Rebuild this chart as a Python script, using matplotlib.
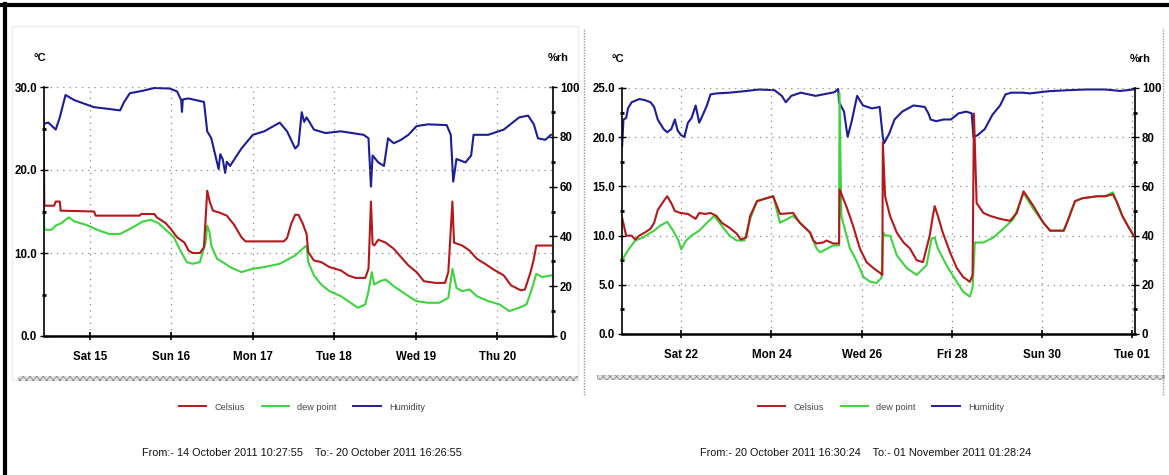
import matplotlib
matplotlib.use("Agg")
import matplotlib.pyplot as plt
from matplotlib.lines import Line2D
from matplotlib.patches import Rectangle
from matplotlib.ticker import FixedLocator, MultipleLocator, FormatStrFormatter

plt.rcParams['font.family'] = ['Liberation Sans Narrow', 'Liberation Sans', 'DejaVu Sans']
plt.rcParams['hatch.linewidth'] = 0.6

W, H = 1169, 475

CELSIUS_C = "#b3191c"
DEW_C = "#3fd43f"
HUM_C = "#1d1d98"

# ---- logger run 1: days since 14 Oct 2011 00:00 ----
run1_hum_t = [0.44, 0.49, 0.58, 0.63, 0.70, 0.81, 1.05, 1.23, 1.37, 1.42, 1.49, 1.65, 1.79, 1.98,
              2.07, 2.12, 2.13, 2.14, 2.21, 2.40, 2.44, 2.49, 2.54, 2.58, 2.60, 2.63, 2.66, 2.68,
              2.72, 2.86, 3.00, 3.14, 3.33, 3.42, 3.52, 3.56, 3.60, 3.63, 3.66, 3.75, 3.89, 4.08,
              4.22, 4.36, 4.42, 4.45, 4.47, 4.54, 4.61, 4.66, 4.73, 4.82, 4.91, 5.01, 5.15, 5.38,
              5.43, 5.46, 5.50, 5.61, 5.68, 5.71, 5.89, 6.08, 6.27, 6.38, 6.45, 6.50, 6.59, 6.66]
run1_hum = [85.3, 85.7, 82.9, 87.8, 96.8, 94.7, 91.9, 91.2, 90.6, 94.0, 97.5, 98.5, 99.6, 99.4,
            98.2, 94.7, 90.0, 95.0, 95.4, 94.0, 82.2, 79.4, 72.5, 67.0, 73.0, 71.0, 65.5, 70.0,
            68.3, 75.3, 80.8, 82.2, 85.7, 82.2, 75.3, 76.7, 89.9, 86.0, 87.8, 82.9, 81.5, 82.2,
            81.5, 80.8, 79.4, 60.0, 72.5, 69.7, 68.3, 79.4, 77.4, 78.8, 80.8, 84.3, 85.0, 84.7,
            80.8, 62.0, 71.1, 69.7, 72.5, 80.8, 80.8, 82.9, 87.8, 88.5, 85.0, 79.4, 78.8, 80.8]

run1_cel_t = [0.43, 0.44, 0.56, 0.58, 0.63, 0.64, 1.05, 1.07, 1.61, 1.63, 1.79, 1.82, 1.93, 2.00,
              2.07, 2.16, 2.21, 2.26, 2.35, 2.40, 2.44, 2.47, 2.51, 2.58, 2.68, 2.77, 2.86, 2.91,
              3.38, 3.42, 3.47, 3.52, 3.56, 3.61, 3.66, 3.68, 3.75, 3.84, 3.94, 4.08, 4.17, 4.26,
              4.38, 4.42, 4.45, 4.47, 4.49, 4.54, 4.63, 4.73, 4.82, 4.91, 5.01, 5.10, 5.24, 5.36,
              5.40, 5.45, 5.47, 5.57, 5.66, 5.75, 5.85, 5.94, 6.08, 6.17, 6.29, 6.34, 6.41, 6.45,
              6.48, 6.52, 6.66]
run1_cel = [26.5, 15.7, 15.7, 16.2, 16.2, 15.1, 15.0, 14.5, 14.5, 14.7, 14.7, 14.3, 13.6, 12.8,
            11.9, 11.25, 10.3, 10.0, 10.0, 10.7, 17.5, 16.2, 15.1, 14.9, 14.5, 13.4, 11.9, 11.4,
            11.4, 11.8, 13.5, 14.6, 14.6, 13.6, 12.3, 10.1, 9.1, 8.9, 8.3, 7.9, 7.3, 7.0,
            7.0, 8.1, 16.2, 11.1, 10.9, 11.6, 11.25, 10.5, 9.5, 8.5, 7.7, 6.6, 6.4, 6.4,
            7.7, 16.2, 11.25, 10.9, 10.3, 9.3, 8.7, 8.1, 7.3, 6.1, 5.5, 5.6, 7.7, 9.3,
            10.9, 10.9, 10.9]

run1_dew_t = [0.43, 0.44, 0.53, 0.58, 0.65, 0.70, 0.74, 0.81, 0.95, 1.09, 1.23, 1.37, 1.51, 1.65,
              1.75, 1.84, 1.93, 2.03, 2.12, 2.19, 2.26, 2.35, 2.42, 2.44, 2.47, 2.49, 2.56, 2.63,
              2.72, 2.86, 3.00, 3.14, 3.33, 3.52, 3.61, 3.66, 3.68, 3.75, 3.84, 3.94, 4.08, 4.17,
              4.29, 4.38, 4.42, 4.46, 4.49, 4.56, 4.63, 4.73, 4.82, 4.91, 5.01, 5.15, 5.29, 5.40,
              5.45, 5.50, 5.57, 5.66, 5.75, 5.89, 6.03, 6.15, 6.27, 6.36, 6.43, 6.48, 6.55, 6.66]
run1_dew = [15.5, 12.8, 12.8, 13.3, 13.6, 14.0, 14.3, 13.8, 13.4, 12.8, 12.3, 12.3, 13.0, 13.8,
            14.0, 13.6, 12.8, 11.9, 10.1, 8.9, 8.7, 8.9, 11.25, 13.3, 12.4, 10.9, 9.3, 8.9,
            8.3, 7.7, 8.1, 8.3, 8.7, 9.7, 10.5, 10.9, 8.9, 7.3, 6.2, 5.4, 4.8, 4.2,
            3.4, 3.8, 5.4, 7.7, 6.2, 6.6, 6.8, 6.0, 5.4, 4.8, 4.2, 4.0, 4.0, 4.6,
            8.1, 5.8, 5.4, 5.6, 4.8, 4.2, 3.8, 3.0, 3.4, 3.8, 5.8, 7.5, 7.1, 7.3]

run1_ticks = [1, 2, 3, 4, 5, 6]
run1_labels = ["Sat 15", "Sun 16", "Mon 17", "Tue 18", "Wed 19", "Thu 20"]
run1_span = (0.436, 6.685)
run1_text = "From:- 14 October 2011 10:27:55    To:- 20 October 2011 16:26:55"

# ---- logger run 2: days since 20 Oct 2011 00:00 ----
run2_hum_t = [0.69, 0.72, 0.78, 0.82, 0.90, 1.07, 1.19, 1.32, 1.40, 1.48, 1.61, 1.69, 1.78, 1.86,
              1.92, 2.00, 2.07, 2.15, 2.23, 2.32, 2.40, 2.48, 2.57, 2.65, 2.78, 3.07, 3.40, 3.73,
              4.07, 4.23, 4.32, 4.44, 4.65, 4.98, 5.40, 5.48, 5.50, 5.61, 5.69, 5.78, 5.90, 6.03,
              6.23, 6.40, 6.47, 6.50, 6.61, 6.73, 6.90, 7.15, 7.40, 7.48, 7.53, 7.65, 7.82, 7.98,
              8.15, 8.32, 8.44, 8.48, 8.57, 8.73, 8.90, 9.07, 9.19, 9.32, 9.57, 9.73, 10.15, 10.57,
              10.98, 11.40, 11.73, 12.03]
run2_hum = [76.3, 87.2, 87.8, 91.7, 94.2, 95.5, 95.1, 94.2, 92.3, 87.2, 83.3, 82.0, 83.3, 87.2,
            82.7, 80.8, 80.1, 85.9, 87.8, 92.9, 85.9, 89.1, 92.9, 97.4, 97.8, 98.1, 98.7, 99.4,
            99.1, 96.8, 94.2, 96.8, 98.1, 96.8, 98.3, 99.6, 94.2, 90.4, 80.1, 86.5, 96.8, 92.9,
            91.7, 92.3, 80.1, 77.6, 81.4, 87.2, 90.4, 92.9, 92.3, 89.7, 87.2, 86.5, 87.2, 87.2,
            89.7, 90.4, 89.7, 80.1, 80.8, 83.3, 89.1, 92.9, 97.4, 98.1, 98.1, 97.8, 98.7, 99.1,
            99.4, 99.4, 98.8, 99.4]

run2_cel_t = [0.69, 0.78, 0.90, 0.98, 1.07, 1.19, 1.32, 1.40, 1.48, 1.61, 1.69, 1.78, 1.86, 1.98,
              2.15, 2.32, 2.40, 2.53, 2.65, 2.78, 2.90, 3.07, 3.23, 3.32, 3.44, 3.53, 3.68, 3.82,
              4.04, 4.19, 4.48, 4.63, 4.86, 4.93, 5.00, 5.15, 5.22, 5.37, 5.50, 5.51, 5.66, 5.81,
              5.96, 6.11, 6.26, 6.41, 6.46, 6.47, 6.52, 6.63, 6.78, 6.93, 7.07, 7.22, 7.36, 7.51,
              7.58, 7.62, 7.69, 7.80, 7.96, 8.11, 8.25, 8.40, 8.46, 8.49, 8.55, 8.70, 8.85, 9.07,
              9.29, 9.44, 9.59, 9.81, 10.03, 10.18, 10.48, 10.57, 10.73, 10.90, 11.23, 11.40, 11.57,
              11.65, 11.78, 11.90, 12.03]
run2_cel = [11.8, 10.0, 10.0, 9.6, 10.0, 10.3, 10.7, 11.3, 12.6, 13.5, 14.0, 13.3, 12.5, 12.3,
            12.2, 11.7, 12.3, 12.2, 12.3, 12.0, 11.3, 10.8, 10.2, 9.6, 9.8, 12.0, 13.5, 13.7,
            14.0, 12.2, 12.3, 11.3, 10.3, 9.5, 9.2, 9.3, 9.5, 9.2, 9.2, 14.7, 13.0, 11.0,
            8.7, 7.3, 6.7, 6.2, 6.0, 19.5, 14.0, 12.0, 10.3, 9.3, 8.7, 7.5, 7.3, 10.0,
            12.0, 13.0, 12.0, 10.3, 8.3, 6.7, 5.8, 5.3, 6.0, 22.4, 13.3, 12.3, 12.0, 11.7,
            11.5, 12.3, 14.5, 13.0, 11.3, 10.5, 10.5, 11.5, 13.5, 13.8, 14.0, 14.0, 14.2,
            13.5, 12.0, 11.0, 10.0]

run2_dew_t = [0.69, 0.82, 0.98, 1.15, 1.32, 1.40, 1.53, 1.69, 1.82, 1.94, 2.00, 2.11, 2.23, 2.40,
              2.57, 2.73, 2.90, 3.07, 3.23, 3.40, 3.53, 3.68, 4.04, 4.19, 4.48, 4.86, 5.00, 5.08,
              5.37, 5.50, 5.51, 5.55, 5.74, 5.88, 6.04, 6.19, 6.33, 6.44, 6.48, 6.52, 6.63, 6.78,
              7.00, 7.22, 7.44, 7.55, 7.62, 7.69, 7.88, 8.11, 8.25, 8.40, 8.46, 8.51, 8.70, 8.92,
              9.14, 9.37, 9.59, 9.81, 10.03, 10.18, 10.48, 10.57, 10.73, 10.90, 11.23, 11.40, 11.57,
              11.65, 11.78, 11.90, 12.03]
run2_dew = [7.5, 8.5, 9.5, 9.8, 10.3, 10.5, 11.0, 11.4, 10.5, 9.5, 8.6, 9.5, 10.0, 10.5,
            11.3, 12.0, 11.0, 10.0, 9.5, 9.5, 11.7, 13.5, 14.0, 11.3, 12.0, 10.3, 8.7, 8.3,
            9.0, 9.0, 24.5, 12.0, 8.7, 7.5, 5.8, 5.3, 5.2, 5.7, 10.3, 10.0, 10.0, 8.0,
            6.7, 6.0, 7.0, 9.7, 9.8, 8.7, 7.0, 5.3, 4.3, 3.8, 4.7, 9.3, 9.3, 9.8,
            10.7, 11.7, 14.3, 12.7, 11.3, 10.5, 10.5, 11.5, 13.5, 13.8, 14.0, 14.0, 14.4,
            13.5, 12.0, 11.0, 10.0]

run2_ticks = [2, 4, 6, 8, 10, 12]
run2_labels = ["Sat 22", "Mon 24", "Wed 26", "Fri 28", "Sun 30", "Tue 01"]
run2_span = (0.6875, 12.061)
run2_text = "From:- 20 October 2011 16:30:24    To:- 01 November 2011 01:28:24"

fig = plt.figure(figsize=(W / 100, H / 100), dpi=100)


def box(x0, y0, x1, y1):
    # pixel box (top-left origin) -> figure fraction rect
    return [x0 / W, 1 - y1 / H, (x1 - x0) / W, (y1 - y0) / H]


def fx(x):
    return x / W


def fy(y):
    return 1 - y / H


def draw_panel(rect, span, tmax, tstep, ticks, labels, hum, cel, dew, leg_x, caption, cap_x):
    ax = fig.add_axes(box(*rect))
    ax2 = ax.twinx()
    ax.set_zorder(ax2.get_zorder() + 1)
    ax.patch.set_visible(False)

    ax2.plot(hum[0], hum[1], color=HUM_C, lw=1.5)
    ax.plot(dew[0], dew[1], color=DEW_C, lw=1.5)
    ax.plot(cel[0], cel[1], color=CELSIUS_C, lw=1.5)

    ax.set_xlim(*span)
    ax.set_ylim(0, tmax)
    ax2.set_ylim(0, 100)

    for s in ("top", "right"):
        ax.spines[s].set_visible(False)
    for s in ("top", "left", "bottom"):
        ax2.spines[s].set_visible(False)
    ax.spines["left"].set_linewidth(1.2)
    ax.spines["bottom"].set_linewidth(1.8)
    ax2.spines["right"].set_linewidth(1.2)

    ax.xaxis.set_major_locator(FixedLocator(ticks))
    ax.set_xticklabels(labels)
    ax.yaxis.set_major_locator(MultipleLocator(tstep))
    ax.yaxis.set_minor_locator(MultipleLocator(tstep / 2))
    ax.yaxis.set_major_formatter(FormatStrFormatter("%.1f"))
    ax2.yaxis.set_major_locator(MultipleLocator(20))
    ax2.yaxis.set_minor_locator(MultipleLocator(10))

    ax.tick_params(axis="x", direction="inout", length=6, width=1.2, pad=8,
                   labelsize=8.3, colors="black")
    ax.tick_params(axis="y", which="major", direction="inout", length=6, width=1.0,
                   pad=2, labelsize=8.3)
    ax.tick_params(axis="y", which="minor", direction="inout", length=3, width=2.0)
    ax2.tick_params(axis="y", which="major", direction="inout", length=6, width=1.0,
                    pad=2, labelsize=8.3)
    ax2.tick_params(axis="y", which="minor", direction="inout", length=3, width=2.0)
    for lab in ax.get_xticklabels() + ax.get_yticklabels() + ax2.get_yticklabels():
        lab.set_fontweight("bold")

    ax.grid(True, which="major", color="#8a8a8a", linestyle=(0, (1, 4)), lw=0.9)
    ax.set_axisbelow(True)

    # unit captions above each scale
    fig.text(fx(rect[0] - 4), fy(rect[1] - 29), "°C", fontsize=8, fontweight="bold",
             ha="center", va="center")
    fig.text(fx(rect[2] + 5), fy(rect[1] - 29), "%rh", fontsize=8, fontweight="bold",
             ha="center", va="center")

    handles = [Line2D([], [], color=CELSIUS_C, lw=1.4),
               Line2D([], [], color=DEW_C, lw=1.4),
               Line2D([], [], color=HUM_C, lw=1.4)]
    fig.legend(handles, ["Celsius", "dew point", "Humidity"], loc="center",
               bbox_to_anchor=(fx(leg_x), fy(407)), ncol=3, frameon=False, fontsize=6.6,
               handlelength=3.0, handletextpad=0.9, columnspacing=1.8, labelcolor="#444")

    fig.text(fx(cap_x), fy(453), caption, fontsize=7.8, ha="center", va="center",
             color="#111")
    return ax


draw_panel((44, 87, 553, 336), run1_span, 30, 10, run1_ticks, run1_labels,
           (run1_hum_t, run1_hum), (run1_cel_t, run1_cel), (run1_dew_t, run1_dew),
           302, run1_text, 302)
draw_panel((622, 88, 1135, 334), run2_span, 25, 5, run2_ticks, run2_labels,
           (run2_hum_t, run2_hum), (run2_cel_t, run2_cel), (run2_dew_t, run2_dew),
           881, run2_text, 866)

# panel frames, hatched bases and the outer border
fig.patches.append(Rectangle((fx(12), fy(380)), fx(566), 1 - fy(354), transform=fig.transFigure,
                             fill=False, edgecolor="#efefef", lw=1.0, zorder=-1))
for x0, x1, yb in [(18, 578, 381), (597, 1165, 380)]:
    fig.patches.append(Rectangle((fx(x0), fy(yb)), fx(x1 - x0), 5 / H, transform=fig.transFigure,
                                 facecolor="#e2e2e2", edgecolor="#8c8c8c", hatch="xxxxx", lw=0))
for xv in (584, 1163):
    fig.add_artist(Line2D([fx(xv), fx(xv)], [fy(395), fy(28)], transform=fig.transFigure,
                          color="#9a9a9a", lw=1.0, linestyle=(0, (1, 1))))
fig.add_artist(Line2D([0, 1], [fy(5), fy(5)], transform=fig.transFigure, color="black", lw=3.0))
fig.add_artist(Line2D([fx(4.5), fx(4.5)], [0, fy(4)], transform=fig.transFigure, color="black",
                      lw=3.0))

fig.savefig("out.png", dpi=100)
